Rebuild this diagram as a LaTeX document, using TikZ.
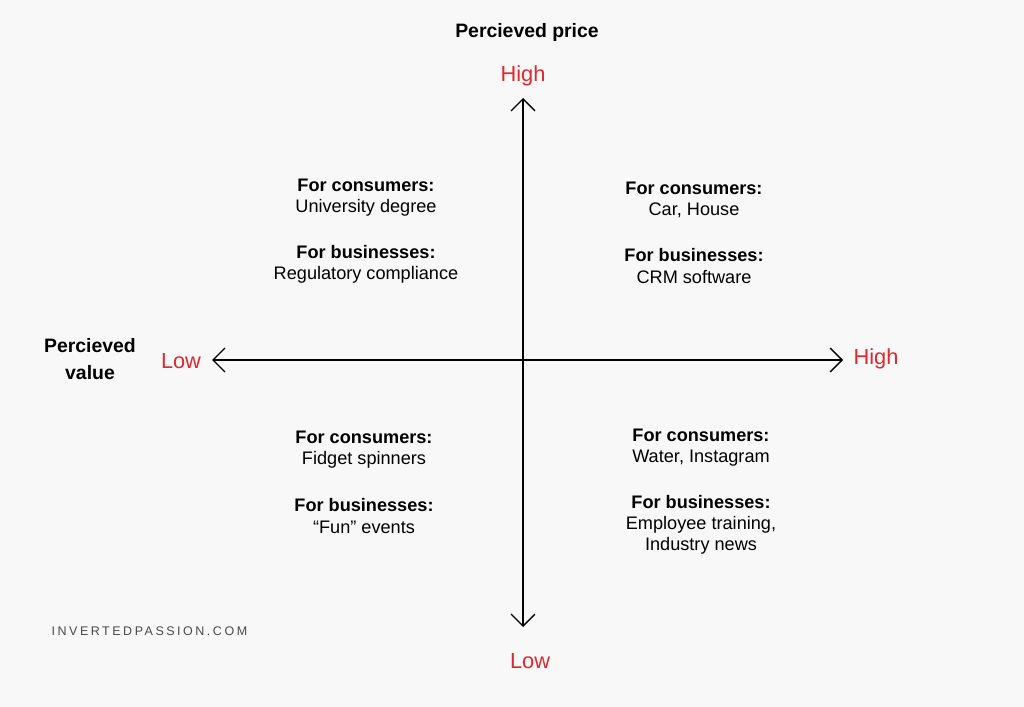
\documentclass[tikz,border=0pt]{standalone}
\usepackage{fontspec}
\setmainfont{Liberation Sans}
\newfontfamily\markfont[LetterSpace=20]{Liberation Sans}
\usetikzlibrary{arrows.meta}
\definecolor{axisred}{HTML}{E0282E}
\definecolor{markgray}{HTML}{4A4A4A}
\definecolor{paper}{HTML}{F8F8F8}

\begin{document}
\begin{tikzpicture}[x=0.025cm,y=-0.025cm,
    every node/.style={align=center,inner sep=1pt,font=\fontsize{12.9}{15}\selectfont},
    head/.style={font=\fontsize{12.9}{15}\selectfont\bfseries},
    axislabel/.style={text=axisred,font=\fontsize{15.5}{18}\selectfont},
    axis/.style={line width=1pt,{Straight Barb[length=8.5pt,width=17pt]}-{Straight Barb[length=8.5pt,width=17pt]}}]
    % background
    \fill[paper] (0,0) rectangle (1024,707);
    \useasboundingbox (0,0) rectangle (1024,707);

    % axes
    \coordinate (ytop) at (523,98);
    \coordinate (ybot) at (523,627);
    \coordinate (xleft) at (212,360);
    \coordinate (xright) at (843,360);
    \draw[axis] (ytop) -- (ybot);
    \draw[axis] (xleft) -- (xright);

    % axis titles and ends
    \node[head,font=\fontsize{13.8}{17}\selectfont\bfseries] (price) at (527,32) {Percieved price};
    \node[head,font=\fontsize{13.8}{19}\selectfont\bfseries] (value) at (90,359) {Percieved\\value};
    \node[axislabel] (phigh) at (523,76) {High};
    \node[axislabel] (plow) at (530,661) {Low};
    \node[axislabel] (vlow) at (181,361) {Low};
    \node[axislabel] (vhigh) at (876,359) {High};

    % top left
    \node (tl1) at (366,198) {\textbf{For consumers:}\\University degree};
    \node (tl2) at (366,264) {\textbf{For businesses:}\\Regulatory compliance};

    % top right
    \node (tr1) at (694,200) {\textbf{For consumers:}\\Car, House};
    \node (tr2) at (694,266) {\textbf{For businesses:}\\CRM software};

    % bottom left
    \node (bl1) at (364,450) {\textbf{For consumers:}\\Fidget spinners};
    \node (bl2) at (364,516) {\textbf{For businesses:}\\“Fun” events};

    % bottom right
    \node (br1) at (701,448) {\textbf{For consumers:}\\Water, Instagram};
    \node (br2) at (701,525) {\textbf{For businesses:}\\Employee training,\\Industry news};

    % watermark
    \node[anchor=west,text=markgray,font=\markfont\fontsize{8.9}{10}\selectfont] (mark) at (50,631) {INVERTEDPASSION.COM};
\end{tikzpicture}
\end{document}
